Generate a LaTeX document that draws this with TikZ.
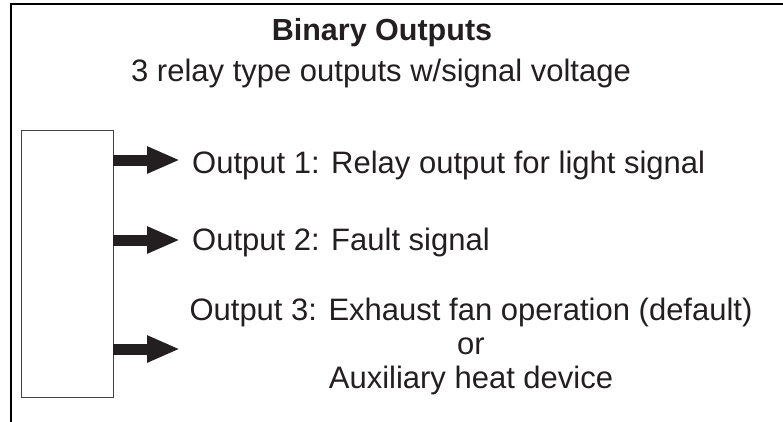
\documentclass[tikz,border=0pt]{standalone}
\usepackage{fontspec}
\setmainfont{Liberation Sans}
\usetikzlibrary{arrows.meta}
\definecolor{ink}{HTML}{231F20}
\tikzset{
  txt/.style={inner sep=0pt, anchor=base, text=ink, font=\fontsize{31}{37}\selectfont},
  txtw/.style={txt, anchor=base west},
  bigarrow/.style={draw=ink, line width=11pt, -{Triangle[length=33pt,width=25pt]}, ink},
  frameline/.style={draw=black, line width=1.8pt},
  boxstyle/.style={draw=ink!85, line width=0.9pt, fill=white, inner sep=0pt}
}
\begin{document}
\begin{tikzpicture}[x=1pt,y=-1pt]
\useasboundingbox (0,0) rectangle (783,421);
\draw[frameline] (11,425) -- (11,4) -- (790,4);
\node[txt, font=\fontsize{30.5}{36}\selectfont\bfseries] (title) at (382,40) {Binary Outputs};
\node[txt] (sub) at (381,81) {3 relay type outputs w/signal voltage};
\node[boxstyle, minimum width=92pt, minimum height=267pt] (box) at (67,263.5) {};
\node[txtw] (o1) at (192,173) {Output 1: Relay output for light signal};
\node[txtw] (o2) at (192,250) {Output 2: Fault signal};
\node[txt] (o3a) at (471,320) {Output 3: Exhaust fan operation (default)};
\node[txt] (o3b) at (471,354) {or};
\node[txt] (o3c) at (471,388) {Auxiliary heat device};
\coordinate (t1) at (180,160);
\coordinate (t2) at (180,240);
\coordinate (t3) at (180,349);
\draw[bigarrow] (box.east |- t1) -- (t1);
\draw[bigarrow] (box.east |- t2) -- (t2);
\draw[bigarrow] (box.east |- t3) -- (t3);
\end{tikzpicture}
\end{document}
